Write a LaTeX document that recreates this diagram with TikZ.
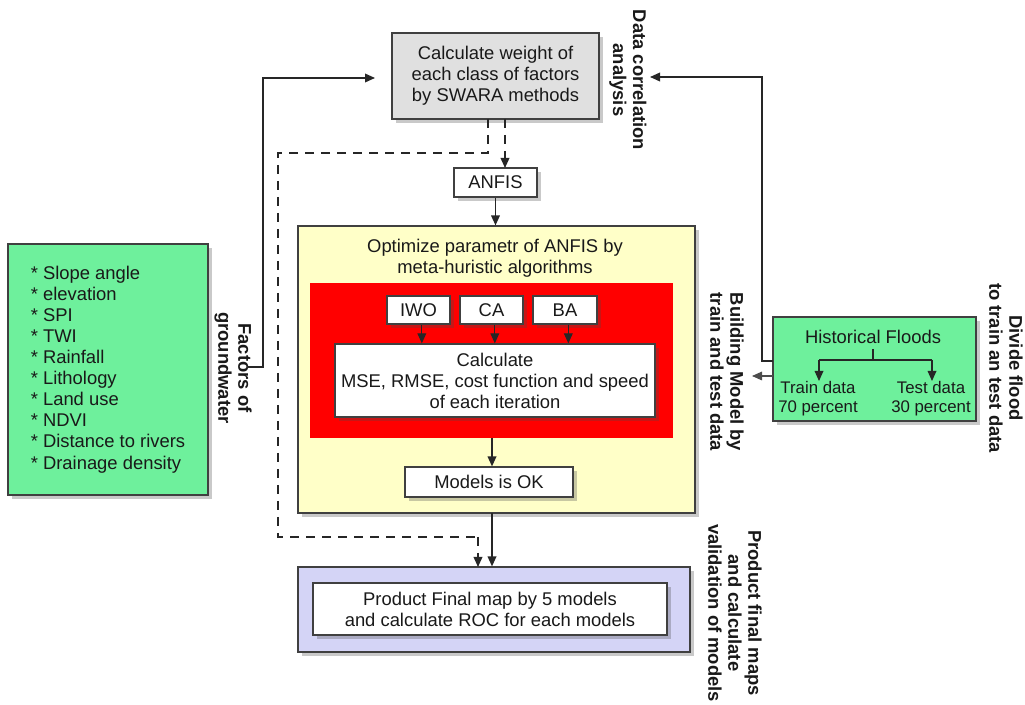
\documentclass[tikz,border=0pt]{standalone}
\usepackage{fontspec}
\setmainfont{Liberation Sans}
\usetikzlibrary{arrows.meta,shadows,calc}
\newdimen\pxunit \pxunit=0.75pt
\definecolor{boxgray}{HTML}{E0E0E0}
\definecolor{boxyellow}{HTML}{FFFFC8}
\definecolor{boxred}{HTML}{FF0000}
\definecolor{boxgreen}{HTML}{6EF09C}
\definecolor{boxlav}{HTML}{D4D4F6}
\definecolor{linegray}{HTML}{404040}
\begin{document}
\begin{tikzpicture}[x=0.75pt,y=-0.75pt,
  shad/.style={drop shadow={shadow xshift=3pt,shadow yshift=-3pt,opacity=0.3,fill=black!70}},
  box/.style={draw=linegray,line width=0.9pt,inner sep=0pt,align=center,
    font=\fontsize{13.8}{15.8}\selectfont,text=black!90},
  lbl/.style={inner sep=0pt,align=center,font=\fontsize{13.8}{15.8}\selectfont,text=black!90},
  rotlbl/.style={inner sep=0pt,align=center,rotate=-90,
    font=\bfseries\fontsize{13.8}{15}\selectfont,text=black!90},
  conn/.style={draw=black!85,line width=1.1pt},
  arr/.style={conn,-{Triangle[length=7.5pt,width=6.5pt]}},
  dsh/.style={conn,dash pattern=on 7pt off 5pt}
]
\useasboundingbox (0,0) rectangle (1025,705);

% boxes
\node[box,shad,fill=boxgray,minimum width=207\pxunit,minimum height=86\pxunit] (swara) at (495.5,76)
  {Calculate weight of\\each class of factors\\by SWARA methods};
\node[box,shad,fill=white,minimum width=83\pxunit,minimum height=29\pxunit] (anfis) at (495.5,182.5) {ANFIS};
\node[box,shad,fill=boxyellow,minimum width=397\pxunit,minimum height=287\pxunit] (yellow) at (496.5,369.5) {};
\node[lbl] (opttitle) at (495,258) {Optimize parametr of ANFIS by\\meta-huristic algorithms};
\node[fill=boxred,inner sep=0pt,minimum width=363\pxunit,minimum height=155\pxunit] (red) at (491.5,360.5) {};
\node[box,shad,fill=white,minimum width=63\pxunit,minimum height=28\pxunit] (iwo) at (418.5,310) {IWO};
\node[box,shad,fill=white,minimum width=63\pxunit,minimum height=28\pxunit] (ca) at (491.5,310) {CA};
\node[box,shad,fill=white,minimum width=64\pxunit,minimum height=28\pxunit] (ba) at (565,310) {BA};
\node[box,shad,fill=white,minimum width=320\pxunit,minimum height=73\pxunit] (calc) at (495,380.5)
  {Calculate\\MSE, RMSE, cost function and speed\\of each iteration};
\node[box,shad,fill=white,minimum width=168\pxunit,minimum height=30\pxunit] (ok) at (489,482) {Models is OK};
\node[box,shad,fill=boxlav,minimum width=392\pxunit,minimum height=85\pxunit] (prodout) at (494,609.5) {};
\node[box,shad,fill=white,minimum width=354\pxunit,minimum height=52\pxunit] (prodin) at (490,609)
  {Product Final map by 5 models\\and calculate ROC for each models};
\node[box,shad,fill=boxgreen,minimum width=200\pxunit,minimum height=251\pxunit,align=left] (factors) at (108,369.5)
  {* Slope angle\\* elevation\\* SPI\\* TWI\\* Rainfall\\* Lithology\\* Land use\\* NDVI\\* Distance to rivers\\* Drainage density};
\node[box,shad,fill=boxgreen,minimum width=203\pxunit,minimum height=104\pxunit] (hist) at (874.5,369) {};
\node[lbl] (histtitle) at (873,337) {Historical Floods};
\node[lbl,font=\fontsize{12.6}{14.2}\selectfont] (train) at (818,399) {Train data\\70 percent};
\node[lbl,font=\fontsize{12.6}{14.2}\selectfont] (test) at (931,399) {Test data\\30 percent};

% rotated labels
\node[rotlbl] (lcorr) at (628,80) {Data correlation\\analysis};
\node[rotlbl] (lfact) at (233,368) {Factors of\\groundwater};
\node[rotlbl] (lbuild) at (727,372) {Building Model by\\train and test data};
\node[rotlbl] (ldiv) at (1006,368) {Divide flood\\to train an test data};
\node[rotlbl] (lprod) at (735,613) {Product final maps\\and calculate\\validation of models};

% free-end coordinates
\coordinate (lstart) at (247,367);
\coordinate (lcorner) at (263,78);
\coordinate (lend) at (375,78);
\coordinate (rcorner) at (762,77);
\coordinate (rend) at (650,77);
\coordinate (histout) at (773,361);
\coordinate (histout2) at (773,376);
\coordinate (buildend) at (752,376);
\coordinate (dstart) at (488,119);
\coordinate (dA) at (488,153);
\coordinate (dB) at (278,153);
\coordinate (dC) at (278,537);
\coordinate (dD) at (478,537);
\coordinate (dEnd) at (478,567);
\coordinate (d2start) at (505,119);
\coordinate (d2end) at (505,168);
\coordinate (hsplit) at (873,349);
\coordinate (hjoin) at (873,360);
\coordinate (htl) at (819,360);
\coordinate (htr) at (932,360);
\coordinate (htlend) at (819,381);
\coordinate (htrend) at (932,381);
\coordinate (redout) at (492,438);
\coordinate (yelout) at (492,513);

% connectors
\draw[arr] (lstart) -- (lstart -| lcorner) -- (lcorner) -- (lend);
\draw[arr] (histout) -- (histout -| rcorner) -- (rcorner) -- (rend);
\draw[arr,line width=0.8pt,draw=black!70] (histout2) -- (buildend);
\draw[dsh] (dstart) -- (dA) -- (dB) -- (dC) -- (dD);
\draw[arr,dash pattern=on 7pt off 5pt] (dD) -- (dEnd);
\draw[arr,dash pattern=on 7pt off 5pt] (d2start) -- (d2end);
\draw[arr] (anfis.south) -- (anfis.south |- yellow.north);
\draw[arr,line width=0.9pt] ([xshift=2.5pt]iwo.south) -- ([xshift=2.5pt]iwo.south |- calc.north);
\draw[arr,line width=0.9pt] ([xshift=2.5pt]ca.south) -- ([xshift=2.5pt]ca.south |- calc.north);
\draw[arr,line width=0.9pt] ([xshift=2.5pt]ba.south) -- ([xshift=2.5pt]ba.south |- calc.north);
\draw[arr] (redout) -- (redout |- ok.north);
\draw[arr] (yelout) -- (yelout |- prodout.north);
\draw[conn,line width=0.9pt] (hsplit) -- (hjoin);
\draw[conn,line width=0.9pt] (htl) -- (htr);
\draw[arr,line width=0.9pt] (htl) -- (htlend);
\draw[arr,line width=0.9pt] (htr) -- (htrend);
\end{tikzpicture}
\end{document}
